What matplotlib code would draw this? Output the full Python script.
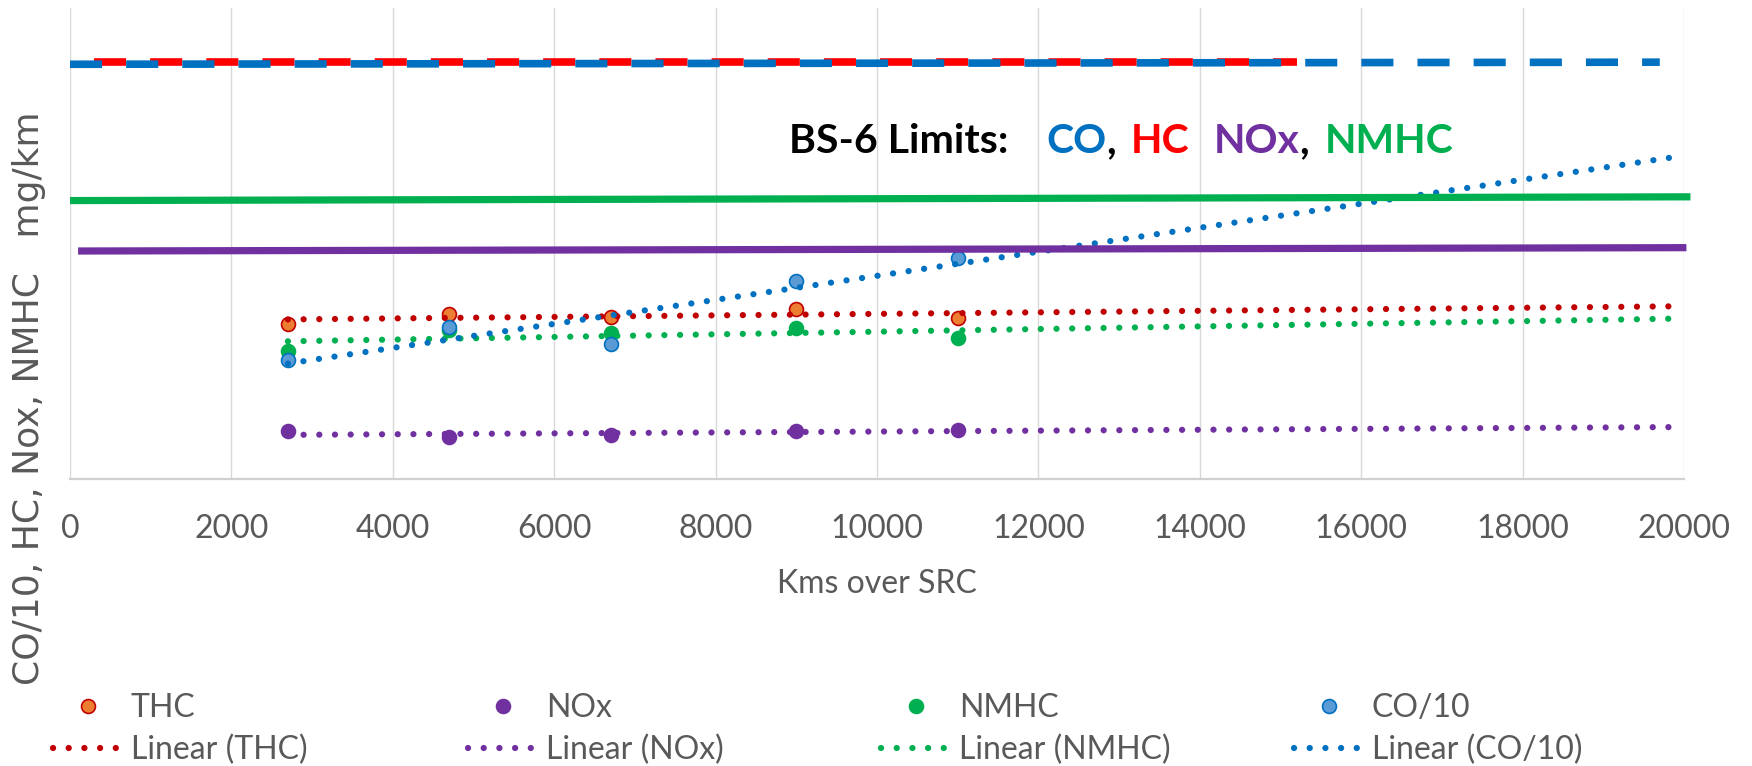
import numpy as np
import matplotlib
matplotlib.use("Agg")
import matplotlib.pyplot as plt

# Measured emissions against distance run over the SRC unit
km = [2700, 4700, 6700, 9000, 11000]
thc = [37.3, 39.6, 38.9, 40.8, 38.6]
nox = [11.4, 10.0, 10.6, 11.4, 11.8]
nmhc = [30.8, 35.7, 35.1, 36.2, 33.9]
co10 = [28.6, 36.5, 32.3, 47.5, 53.0]
trend_end_km = 19900

# BS-6 limit lines: (km at both ends, level at both ends)
hc_limit_km, hc_limit = [300, 15200], [100.1, 100.1]
co_limit_km, co_limit = [0, 19700], [99.5, 100.0]
nmhc_limit_km, nmhc_limit = [0, 20080], [66.8, 67.7]
nox_limit_km, nox_limit = [100, 20030], [54.7, 55.5]

xticks = list(range(0, 20001, 2000))
series_names = ["THC", "NOx", "NMHC", "CO/10"]

GRAY = "#595959"
plt.rcParams["font.family"] = ["Lato", "DejaVu Sans"]

W, H = 1752, 766
fig = plt.figure(figsize=(W / 100, H / 100), dpi=100)
ax = fig.add_axes([70 / W, 1 - 479 / H, 1614 / W, 471 / H])

ax.set_xlim(0, 20000)
ax.set_ylim(0, 113)
ax.set_xticks(xticks)
ax.set_xticklabels([str(t) for t in xticks])
ax.set_yticks([])
ax.tick_params(axis="x", length=0, pad=25, labelsize=23, labelcolor=GRAY)
ax.grid(axis="x", color="#D9D9D9", lw=1.0)
ax.set_axisbelow(True)
for side in ["top", "right", "left"]:
    ax.spines[side].set_visible(False)
ax.spines["bottom"].set_color("#D0D0D0")
ax.spines["bottom"].set_linewidth(1.6)

# scatter series
styles = {
    "THC": dict(face="#ED7D31", edge="#C00000", trend="#C00000"),
    "NOx": dict(face="#7030A0", edge="#7030A0", trend="#7030A0"),
    "NMHC": dict(face="#00B050", edge="#00B050", trend="#00B050"),
    "CO/10": dict(face="#5B9BD5", edge="#0070C0", trend="#0070C0"),
}
values = {"THC": thc, "NOx": nox, "NMHC": nmhc, "CO/10": co10}

markers, trends = {}, {}
for name in series_names:
    st = styles[name]
    (m,) = ax.plot(km, values[name], ls="none", marker="o", ms=10,
                   mfc=st["face"], mec=st["edge"], mew=1.2, zorder=3)
    markers[name] = m

# linear trend lines (least squares), forecast forward
xs = np.array([km[0], trend_end_km], dtype=float)
for name in series_names:
    slope, icpt = np.polyfit(km, values[name], 1)
    (t,) = ax.plot(xs, slope * xs + icpt, color=styles[name]["trend"],
                   lw=4.5, ls=(0, (0.01, 2.5)), dash_capstyle="round",
                   solid_capstyle="round", zorder=4)
    trends[name] = t

# limit lines
ax.plot(hc_limit_km, hc_limit, color="#FF0000", lw=5.5, ls=(0, (4.2, 3.15)),
        dash_capstyle="butt", zorder=5, clip_on=False)
ax.plot(co_limit_km, co_limit, color="#0070C0", lw=5.5, ls=(0, (4.2, 3.15)),
        dash_capstyle="butt", zorder=6, clip_on=False)
ax.plot(nmhc_limit_km, nmhc_limit, color="#00B050", lw=5.2,
        solid_capstyle="butt", zorder=5, clip_on=False)
ax.plot(nox_limit_km, nox_limit, color="#7030A0", lw=5.2,
        solid_capstyle="butt", zorder=5, clip_on=False)

# "BS-6 Limits" caption with coloured pollutant names
parts = [
    ("BS-6 Limits:", "black", 0),
    ("CO", "#0070C0", 27.4),
    (",", "black", 0),
    ("HC", "#FF0000", 10.8),
    ("NOx", "#7030A0", 17.3),
    (",", "black", 0),
    ("NMHC", "#00B050", 10.8),
]
prev = fig.text(789 / W, 1 - 153 / H, parts[0][0], color=parts[0][1],
                fontsize=29.5, fontweight="bold", va="baseline", ha="left")
for text, col, gap in parts[1:]:
    prev = ax.annotate(text, xy=(1, 0), xycoords=prev, xytext=(gap, 0),
                       textcoords="offset points", va="bottom", ha="left",
                       color=col, fontsize=29.5, fontweight="bold")

# axis titles
fig.text(877 / W, 1 - 593 / H, "Kms over SRC", ha="center", va="baseline",
         fontsize=23, color=GRAY)
fig.text(29 / W, 1 - 398 / H, "CO/10, HC, Nox, NMHC   mg/km", rotation=90,
         ha="center", va="center", fontsize=26, color=GRAY,
         family=["DejaVu Sans"])

# legend: one column per series, marker row above trend-line row
col_left = [53, 468, 881, 1294]
for name, xl in zip(series_names, col_left):
    fig.legend([markers[name], trends[name]], [name, f"Linear ({name})"],
               loc="upper left", bbox_to_anchor=(xl / W, 1 - 693 / H),
               frameon=False, fontsize=23, labelcolor=GRAY, numpoints=1,
               borderpad=0, borderaxespad=0, handlelength=2.19,
               handletextpad=0.25, labelspacing=0.38)

fig.savefig("out.png", dpi=100)
